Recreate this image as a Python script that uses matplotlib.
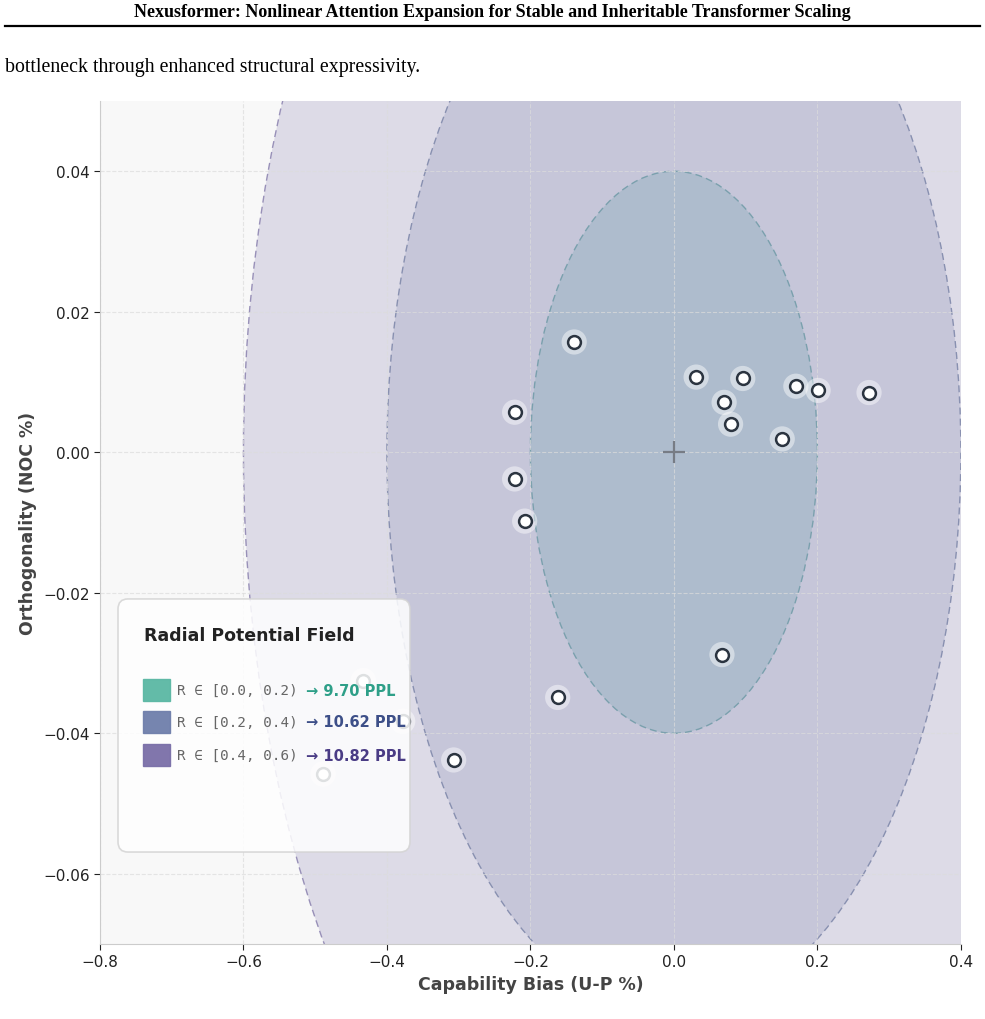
import numpy as np
import matplotlib.pyplot as plt
from matplotlib.patches import Ellipse, FancyBboxPatch, Rectangle

# data
bias = [-0.139, 0.031, 0.096, 0.070, 0.079, 0.170, 0.201, 0.272, 0.151,
        -0.222, -0.222, -0.208, 0.067, -0.162, -0.307, -0.433, -0.378, -0.489]
noc = [0.0157, 0.0107, 0.0105, 0.0071, 0.0040, 0.0094, 0.0088, 0.0085, 0.0019,
       0.0057, -0.0038, -0.0098, -0.0288, -0.0349, -0.0438, -0.0325, -0.0383, -0.0458]

radii = [0.6, 0.4, 0.2]
y_scale = 0.2  # NOC axis is squeezed relative to bias
fill_colors = ['#dddbe7', '#c6c6d9', '#aebccd']
edge_colors = ['#9890b8', '#8890b0', '#7aa0ad']

ranges = ['R ∈ [0.0, 0.2)', 'R ∈ [0.2, 0.4)', 'R ∈ [0.4, 0.6)']
ppl = [9.70, 10.62, 10.82]
ppl_colors = ['#2e9f88', '#3d4f88', '#4a3c85']
patch_colors = ['#5bb8a4', '#6f7fab', '#7a6fa8']

fig = plt.figure(figsize=(9.85, 10.2), dpi=100)

# page header bits
fig.text(0.5, 0.988, 'Nexusformer: Nonlinear Attention Expansion for Stable and Inheritable Transformer Scaling',
         ha='center', va='center', fontsize=13, fontweight='bold', family='Liberation Serif')
fig.add_artist(plt.Line2D([0.005, 0.995], [0.9735, 0.9735], color='black', lw=1.6))
fig.text(0.005, 0.934, 'bottleneck through enhanced structural expressivity.',
         ha='left', va='center', fontsize=14.3, family='Liberation Serif')

ax = fig.add_axes([0.1015, 0.0735, 0.874, 0.8265])
ax.set_facecolor('#f8f8f8')

for r, fc, ec in zip(radii, fill_colors, edge_colors):
    ax.add_patch(Ellipse((0, 0), 2 * r, 2 * r * y_scale, facecolor=fc,
                         edgecolor=ec, ls=(0, (5, 3)), lw=1.0, zorder=1))

ax.grid(True, ls='--', color='#dcdcdc', lw=0.8, alpha=0.7)

ax.plot(0, 0, marker='+', ms=16, mew=1.6, color='#777c85', zorder=3)

ax.scatter(bias, noc, s=330, color='white', alpha=0.45, edgecolors='none', zorder=4)
ax.scatter(bias, noc, s=85, color='white', edgecolors='#2b3440', linewidths=1.8, zorder=5)

ax.set_xlim(-0.8, 0.4)
ax.set_ylim(-0.07, 0.05)
ax.set_xticks([-0.8, -0.6, -0.4, -0.2, 0.0, 0.2, 0.4])
ax.set_yticks([-0.06, -0.04, -0.02, 0.0, 0.02, 0.04])
ax.tick_params(labelsize=11, colors='#222222', length=4)
for s in ['top', 'right']:
    ax.spines[s].set_visible(False)
for s in ['left', 'bottom']:
    ax.spines[s].set_color('#cccccc')
ax.set_xlabel('Capability Bias (U-P %)', fontsize=12.5, fontweight='bold', color='#444444')
ax.set_ylabel('Orthogonality (NOC %)', fontsize=12.5, fontweight='bold', color='#444444')

# custom legend panel
box = FancyBboxPatch((0.1198 + 0.01, 0.1637 + 0.01), 0.2964 - 0.02, 0.2481 - 0.02,
                     boxstyle='round,pad=0.01', transform=fig.transFigure,
                     facecolor='white', edgecolor='#d4d4d4', lw=1.2, alpha=0.85, zorder=10)
fig.add_artist(box)
fig.text(0.146, 0.376, 'Radial Potential Field', fontsize=12.5, fontweight='bold',
         color='#222222', va='center', zorder=11)
row_y = [0.3225, 0.2912, 0.2588]
for yy, rng, p, pc, tc in zip(row_y, ranges, ppl, patch_colors, ppl_colors):
    fig.add_artist(Rectangle((0.1452, yy - 0.011), 0.0274, 0.022, transform=fig.transFigure,
                             facecolor=pc, edgecolor=pc, alpha=0.95, zorder=11))
    fig.text(0.180, yy, rng, family='DejaVu Sans Mono', fontsize=10.3, color='#666666',
             va='center', zorder=11)
    fig.text(0.311, yy, '→ %.2f PPL' % p, fontsize=10.5, fontweight='bold', color=tc,
             va='center', zorder=11)

fig.savefig('out.png', dpi=100)
